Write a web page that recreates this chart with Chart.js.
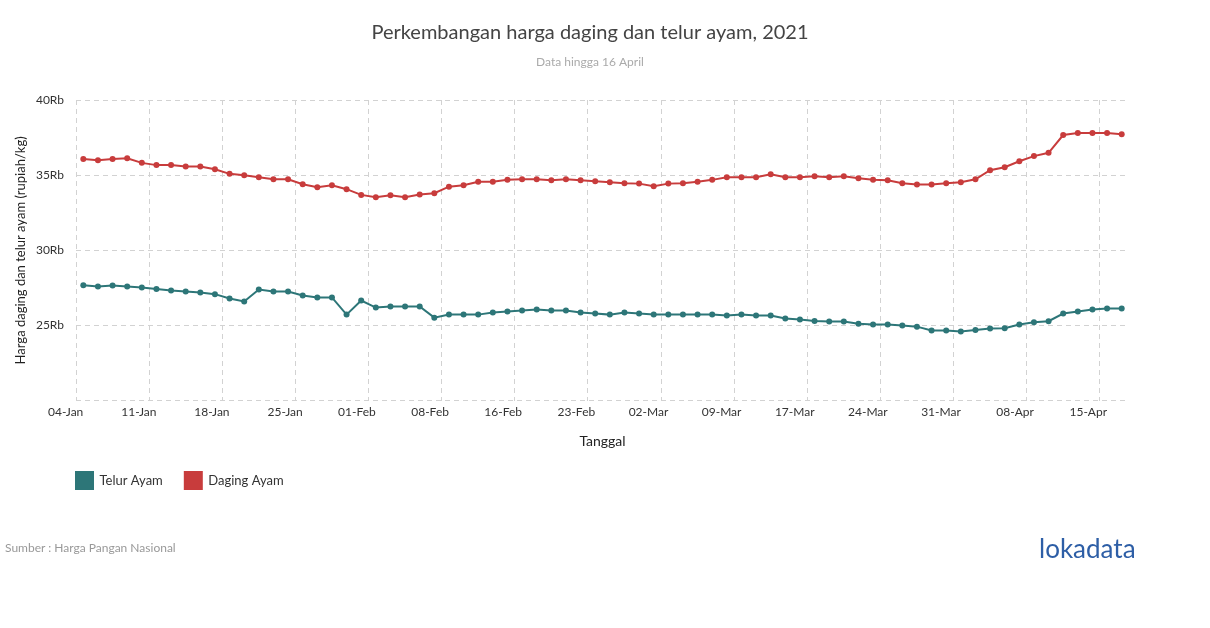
<!DOCTYPE html>
<html>
<head>
<meta charset="utf-8">
<script src="https://cdn.jsdelivr.net/npm/chart.js@4/dist/chart.umd.min.js"></script>
<style>
  body { margin: 0; background: #fff; font-family: Lato, sans-serif; }
  #wrap { position: relative; width: 1210px; height: 628px; }
  #chart { position: absolute; left: 0; top: 0; }
  #source { position: absolute; left: 5px; top: 540px; font-size: 12px; color: #999; }
  #logo { position: absolute; left: 1039px; top: 532px; font-size: 26px; color: #2d5ea6; }
</style>
</head>
<body>
<div id="wrap">
  <canvas id="chart" width="1180" height="628"></canvas>
  <div id="source">Sumber : Harga Pangan Nasional</div>
  <div id="logo">lokadata</div>
</div>
<script>
// working days, 04 Jan - 16 Apr 2021
const dates = [
  '04-Jan','05-Jan','06-Jan','07-Jan','08-Jan',
  '11-Jan','12-Jan','13-Jan','14-Jan','15-Jan',
  '18-Jan','19-Jan','20-Jan','21-Jan','22-Jan',
  '25-Jan','26-Jan','27-Jan','28-Jan','29-Jan',
  '01-Feb','02-Feb','03-Feb','04-Feb','05-Feb',
  '08-Feb','09-Feb','10-Feb','11-Feb','15-Feb',
  '16-Feb','17-Feb','18-Feb','19-Feb','22-Feb',
  '23-Feb','24-Feb','25-Feb','26-Feb','01-Mar',
  '02-Mar','03-Mar','04-Mar','05-Mar','08-Mar',
  '09-Mar','10-Mar','12-Mar','15-Mar','16-Mar',
  '17-Mar','18-Mar','19-Mar','22-Mar','23-Mar',
  '24-Mar','25-Mar','26-Mar','29-Mar','30-Mar',
  '31-Mar','01-Apr','05-Apr','06-Apr','07-Apr',
  '08-Apr','09-Apr','12-Apr','13-Apr','14-Apr',
  '15-Apr','16-Apr'
];

const telurAyam = [
  27690, 27600, 27670, 27600, 27530, 27440, 27330, 27270, 27200, 27090,
  26800, 26600, 27400, 27270, 27270, 27000, 26870, 26870, 25730, 26670,
  26200, 26270, 26270, 26270, 25530, 25730, 25730, 25730, 25870, 25930,
  26000, 26070, 26000, 26000, 25870, 25800, 25730, 25870, 25800, 25730,
  25730, 25730, 25730, 25730, 25670, 25730, 25670, 25670, 25470, 25400,
  25300, 25270, 25270, 25130, 25070, 25070, 25000, 24930, 24670, 24670,
  24600, 24710, 24800, 24820, 25070, 25220, 25290, 25800, 25930, 26070,
  26130, 26130
];

const dagingAyam = [
  36070, 36000, 36070, 36130, 35820, 35670, 35670, 35580, 35580, 35400,
  35090, 35000, 34870, 34730, 34730, 34400, 34200, 34330, 34070, 33690,
  33530, 33670, 33530, 33720, 33800, 34240, 34330, 34560, 34560, 34690,
  34730, 34730, 34670, 34730, 34670, 34600, 34530, 34470, 34440, 34270,
  34440, 34470, 34560, 34690, 34870, 34870, 34870, 35070, 34870, 34870,
  34930, 34870, 34930, 34800, 34690, 34670, 34470, 34380, 34380, 34470,
  34530, 34730, 35330, 35530, 35930, 36270, 36490, 37670, 37800, 37800,
  37800, 37730
];

const yTicks = [20000, 25000, 30000, 35000, 40000];

const TEAL = 'rgb(45, 118, 120)';
const RED = 'rgb(200, 60, 60)';
const GRID = '#d2d2d2';

// move legend so it starts at the plot's left edge
const legendShift = {
  id: 'legendShift',
  afterLayout(chart) {
    if (chart.legend) {
      chart.legend.left = chart.chartArea.left - 22;
    }
  }
};

const ctx = document.getElementById('chart').getContext('2d');
new Chart(ctx, {
  type: 'line',
  data: {
    labels: dates,
    datasets: [
      {
        label: 'Telur Ayam',
        data: telurAyam,
        borderColor: TEAL,
        backgroundColor: TEAL,
        borderWidth: 2,
        pointRadius: 3,
        pointBorderWidth: 0,
        tension: 0
      },
      {
        label: 'Daging Ayam',
        data: dagingAyam,
        borderColor: RED,
        backgroundColor: RED,
        borderWidth: 2,
        pointRadius: 3,
        pointBorderWidth: 0,
        tension: 0
      }
    ]
  },
  options: {
    responsive: false,
    animation: false,
    devicePixelRatio: 1,
    layout: {
      padding: { left: 0, right: 0, top: 0, bottom: 129 }
    },
    scales: {
      x: {
        type: 'category',
        offset: true,
        grid: {
          offset: true,
          drawTicks: false,
          color: (c) => (c.index % 5 === 0 && c.index < dates.length) ? GRID : 'rgba(0,0,0,0)'
        },
        border: { display: false, dash: [5, 4] },
        ticks: {
          autoSkip: false,
          maxRotation: 0,
          minRotation: 0,
          align: 'end',
          padding: 4,
          color: '#333',
          font: { family: 'Lato', size: 12 },
          callback: (v, i) => (i % 5 === 0 ? dates[i] : '')
        },
        title: {
          display: true,
          text: 'Tanggal',
          color: '#222',
          font: { family: 'Lato', size: 14 },
          padding: { top: 10, bottom: 0 }
        }
      },
      y: {
        min: 20000,
        max: 40000,
        afterBuildTicks: (scale) => { scale.ticks = yTicks.map(v => ({ value: v })); },
        afterFit: (scale) => { scale.width = 76; },
        grid: { drawTicks: false, color: GRID },
        border: { display: false, dash: [5, 4] },
        ticks: {
          padding: 12,
          color: '#333',
          font: { family: 'Lato', size: 12 },
          callback: (v) => (v === 20000 ? '' : (v / 1000) + 'Rb')
        },
        title: {
          display: true,
          text: 'Harga daging dan telur ayam (rupiah/kg)',
          color: '#222',
          font: { family: 'Lato', size: 13 },
          padding: { top: 13, bottom: 0 }
        }
      },
      // empty right-hand axis, only keeps the plot clear of the right edge
      yRight: {
        position: 'right',
        min: 20000,
        max: 40000,
        afterFit: (scale) => { scale.width = 51; },
        grid: { display: false },
        border: { display: false },
        ticks: { display: false },
        title: { display: false }
      }
    },
    plugins: {
      title: {
        display: true,
        text: 'Perkembangan harga daging dan telur ayam, 2021',
        color: '#444',
        font: { family: 'Lato', size: 20, weight: 'normal' },
        padding: { top: 21, bottom: 10 }
      },
      subtitle: {
        display: true,
        text: 'Data hingga 16 April',
        color: '#aaa',
        font: { family: 'Lato', size: 12 },
        padding: { top: 0, bottom: 30.6 }
      },
      legend: {
        position: 'bottom',
        align: 'start',
        labels: {
          boxWidth: 17,
          boxHeight: 17,
          padding: 22,
          color: '#333',
          font: { family: 'Lato', size: 13 }
        }
      },
      tooltip: { enabled: false }
    }
  },
  plugins: [legendShift]
});
</script>
</body>
</html>
